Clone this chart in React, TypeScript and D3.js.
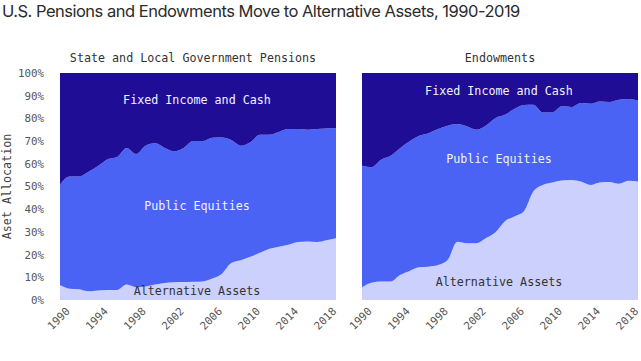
import React, { useEffect, useRef } from 'react';
import * as d3 from 'd3';

// Asset allocation, share of total (%)
const years = [
  1990, 1991, 1992, 1993, 1994, 1995, 1996, 1997, 1998, 1999,
  2000, 2001, 2002, 2003, 2004, 2005, 2006, 2007, 2008, 2009,
  2010, 2011, 2012, 2013, 2014, 2015, 2016, 2017, 2018, 2019
];

const pensionAlternatives = [
  6.5, 5.0, 4.7, 3.8, 4.2, 4.4, 4.4, 6.8, 5.6, 6.0,
  6.8, 7.5, 7.8, 7.9, 8.0, 8.2, 9.5, 11.5, 16.3, 17.5,
  19.0, 20.8, 22.6, 23.5, 24.3, 25.5, 25.8, 25.5, 26.3, 27.2
];
const pensionEquities = [
  44.2, 49.4, 49.7, 52.7, 54.8, 57.6, 58.6, 60.2, 58.7, 62.0,
  62.2, 59.5, 57.7, 59.1, 62.0, 61.8, 62.0, 60.1, 54.2, 50.5,
  50.5, 52.0, 50.2, 50.5, 51.0, 49.8, 49.2, 49.8, 49.3, 48.6
];
const pensionFixedIncome = [
  49.3, 45.6, 45.6, 43.5, 41.0, 38.0, 37.0, 33.0, 35.7, 32.0,
  31.0, 33.0, 34.5, 33.0, 30.0, 30.0, 28.5, 28.4, 29.5, 32.0,
  30.5, 27.2, 27.2, 26.0, 24.7, 24.7, 25.0, 24.7, 24.4, 24.2
];

const endowmentAlternatives = [
  5.6, 7.6, 8.1, 8.1, 11.0, 12.8, 14.4, 14.7, 15.4, 17.6,
  25.7, 25.0, 25.0, 27.2, 29.7, 34.6, 36.8, 39.0, 47.8, 50.7,
  51.8, 52.6, 52.9, 52.2, 50.7, 51.8, 52.0, 51.2, 52.5, 52.2
];
const endowmentEquities = [
  53.5, 50.9, 53.7, 55.4, 55.9, 57.1, 58.0, 58.8, 59.9, 59.2,
  51.8, 51.5, 50.0, 49.6, 50.4, 47.0, 47.3, 46.9, 38.2, 31.9,
  30.8, 32.7, 32.1, 34.6, 35.8, 35.7, 35.2, 37.0, 36.0, 35.6
];
const endowmentFixedIncome = [
  40.9, 41.5, 38.2, 36.5, 33.1, 30.1, 27.6, 26.5, 24.7, 23.2,
  22.5, 23.5, 25.0, 23.2, 19.9, 18.4, 15.9, 14.1, 14.0, 17.4,
  17.4, 14.7, 15.0, 13.2, 13.5, 12.5, 12.8, 11.8, 11.5, 12.2
];

const assetKeys = ['alternatives', 'equities', 'fixedIncome'];
const assetLabels = ['Alternative Assets', 'Public Equities', 'Fixed Income and Cash'];
const assetColors = ['#cbd0fc', '#4b63f5', '#200d96'];
const labelColors = ['#333333', '#f2f2ff', '#f2f2ff'];

const yTicks = [0, 10, 20, 30, 40, 50, 60, 70, 80, 90, 100];
const xTickYears = [1990, 1994, 1998, 2002, 2006, 2010, 2014, 2018];

const WIDTH = 641;
const HEIGHT = 361;
const PLOT_TOP = 73;
const PLOT_BOTTOM = 300;
const MONO = '"DejaVu Sans Mono", "Liberation Mono", monospace';

const panels = [
  {
    title: 'State and Local Government Pensions',
    titleX: 193,
    x0: 60,
    x1: 336,
    series: [pensionAlternatives, pensionEquities, pensionFixedIncome],
    // label placement [cx, baseline] for alt, equities, fixed
    labelPos: [[197, 295], [197, 210], [197, 104]]
  },
  {
    title: 'Endowments',
    titleX: 500,
    x0: 362,
    x1: 638,
    series: [endowmentAlternatives, endowmentEquities, endowmentFixedIncome],
    labelPos: [[499, 286], [499, 163], [499, 95]]
  }
];

const App: React.FC = () => {
  const svgRef = useRef<SVGSVGElement>(null);

  useEffect(() => {
    if (!svgRef.current) return;
    const svg = d3.select(svgRef.current);
    svg.selectAll('*').remove();

    svg.append('rect')
      .attr('width', WIDTH)
      .attr('height', HEIGHT)
      .attr('fill', '#ffffff');

    // Title
    svg.append('text')
      .attr('x', 2)
      .attr('y', 17)
      .style('font-family', 'Inter, "Liberation Sans", sans-serif')
      .style('font-size', '16.5px')
      .style('letter-spacing', '-0.5px')
      .style('fill', '#2b2b2b')
      .text('U.S. Pensions and Endowments Move to Alternative Assets, 1990-2019');

    const yScale = d3.scaleLinear()
      .domain([0, 100])
      .range([PLOT_BOTTOM, PLOT_TOP]);

    // Y axis
    const yAxis = svg.append('g')
      .attr('transform', `translate(${panels[0].x0 - 16},0)`)
      .call(d3.axisLeft(yScale).tickValues(yTicks).tickSize(0).tickPadding(0).tickFormat(d => `${d}%`));
    yAxis.select('.domain').remove();
    yAxis.selectAll('text')
      .style('font-family', MONO)
      .style('font-size', '10.8px')
      .style('fill', '#555555');

    svg.append('text')
      .attr('transform', `translate(11,${(PLOT_TOP + PLOT_BOTTOM) / 2}) rotate(-90)`)
      .attr('text-anchor', 'middle')
      .style('font-family', MONO)
      .style('font-size', '11.7px')
      .style('fill', '#444444')
      .text('Aset Allocation');

    panels.forEach(panel => {
      const rows = years.map((year, i) => ({
        year,
        alternatives: panel.series[0][i],
        equities: panel.series[1][i],
        fixedIncome: panel.series[2][i]
      }));

      const stacked = d3.stack<any>().keys(assetKeys)(rows);

      const xScale = d3.scaleLinear()
        .domain([years[0], years[years.length - 1]])
        .range([panel.x0, panel.x1]);

      const area = d3.area<any>()
        .x(d => xScale(d.data.year))
        .y0(d => yScale(d[0]))
        .y1(d => yScale(d[1]))
        .curve(d3.curveMonotoneX);

      const g = svg.append('g');

      g.selectAll('path')
        .data(stacked)
        .enter()
        .append('path')
        .attr('d', area)
        .attr('fill', (_, i) => assetColors[i]);

      // Panel title
      svg.append('text')
        .attr('x', panel.titleX)
        .attr('y', 62)
        .attr('text-anchor', 'middle')
        .style('font-family', MONO)
        .style('font-size', '11.7px')
        .style('fill', '#333333')
        .text(panel.title);

      // Area labels
      assetLabels.forEach((label, i) => {
        svg.append('text')
          .attr('x', panel.labelPos[i][0])
          .attr('y', panel.labelPos[i][1])
          .attr('text-anchor', 'middle')
          .style('font-family', MONO)
          .style('font-size', '11.7px')
          .style('fill', labelColors[i])
          .text(label);
      });

      // X axis
      const xAxis = svg.append('g')
        .attr('transform', `translate(0,${PLOT_BOTTOM})`)
        .call(d3.axisBottom(xScale).tickValues(xTickYears).tickSize(0).tickFormat(d3.format('d')));
      xAxis.select('.domain').remove();
      xAxis.selectAll('text')
        .attr('text-anchor', 'end')
        .attr('dy', null)
        .attr('y', 0)
        .attr('transform', 'translate(10,12) rotate(-45)')
        .style('font-family', MONO)
        .style('font-size', '10.8px')
        .style('fill', '#555555');
    });
  }, []);

  return (
    <svg
      ref={svgRef}
      width={WIDTH}
      height={HEIGHT}
      style={{ position: 'absolute', left: 0, top: 0, display: 'block' }}
    />
  );
};

export default App;
